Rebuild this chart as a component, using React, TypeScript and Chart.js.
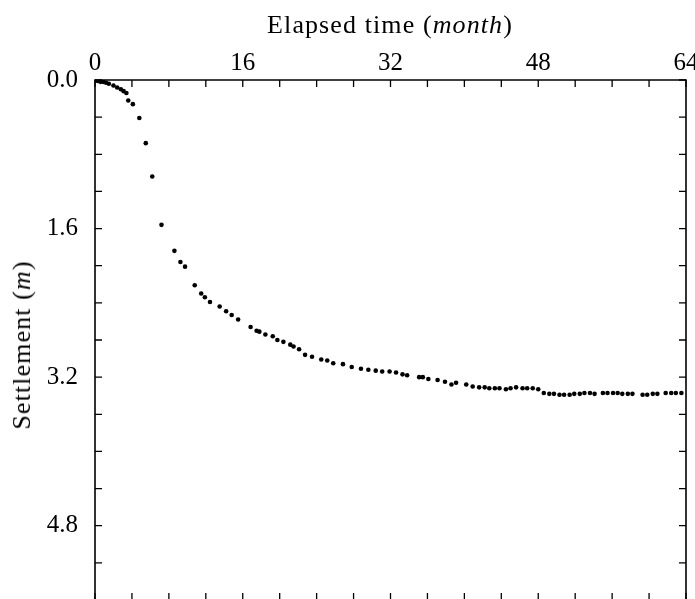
import React, { useEffect, useRef } from "react";
import { Chart, registerables } from "chart.js";

Chart.register(...registerables);

// Elapsed time (month)
const months: number[] = [
  0.0, 0.3, 0.6, 0.9, 1.2, 1.5, 2.0, 2.4, 2.8, 3.1, 3.4,
  3.6, 4.1, 4.8, 5.5, 6.2, 7.2, 8.6, 9.25, 9.75, 10.8,
  11.5, 11.9, 12.45, 13.5, 14.2, 14.8, 15.5, 16.85, 17.5, 17.8,
  18.45, 19.25, 19.75, 20.4, 21.15, 21.5, 22.1, 22.75, 23.5, 24.5,
  25.15, 25.8, 26.85, 27.8, 28.8, 29.6, 30.4, 31.1, 31.9, 32.6,
  33.3, 33.8, 35.1, 35.5, 36.1, 37.1, 37.9, 38.6, 39.1, 40.2,
  40.9, 41.6, 42.2, 42.7, 43.3, 43.8, 44.5, 45.0, 45.6, 46.3,
  46.8, 47.4, 48.0, 48.6, 49.2, 49.7, 50.3, 50.8, 51.4, 51.9,
  52.5, 53.0, 53.6, 54.1, 55.0, 55.5, 56.1, 56.6, 57.1, 57.7,
  58.2, 59.3, 59.8, 60.4, 60.9, 61.8, 62.4, 62.9, 63.5,
];

// Settlement (m)
const settlement: number[] = [
  0.0, 0.01, 0.02, 0.02, 0.03, 0.04, 0.06, 0.08, 0.10, 0.12, 0.14,
  0.22, 0.26, 0.41, 0.68, 1.04, 1.56, 1.84, 1.96, 2.01, 2.21,
  2.30, 2.34, 2.39, 2.44, 2.49, 2.53, 2.58, 2.66, 2.70, 2.71,
  2.74, 2.76, 2.80, 2.82, 2.85, 2.87, 2.90, 2.96, 2.98, 3.01,
  3.02, 3.05, 3.06, 3.09, 3.11, 3.12, 3.13, 3.14, 3.14, 3.15,
  3.17, 3.18, 3.20, 3.20, 3.22, 3.23, 3.25, 3.28, 3.26, 3.28,
  3.30, 3.31, 3.31, 3.32, 3.32, 3.32, 3.33, 3.32, 3.31, 3.32,
  3.32, 3.32, 3.33, 3.37, 3.38, 3.38, 3.39, 3.39, 3.39, 3.38,
  3.38, 3.37, 3.37, 3.38, 3.37, 3.37, 3.37, 3.37, 3.38, 3.38,
  3.38, 3.39, 3.39, 3.38, 3.38, 3.37, 3.37, 3.37, 3.37,
];

const xTickLabels: number[] = [0, 16, 32, 48, 64];
const yTickLabels: number[] = [0.0, 1.6, 3.2, 4.8];
const xMinorStep = 4;
const yMinorStep = 0.4;
const xRange: [number, number] = [0, 64];
const yRange: [number, number] = [0, 5.6];

const FONT = "'Liberation Serif', 'Times New Roman', serif";

const frameTicksPlugin = {
  id: "frameTicks",
  afterDraw(chart: any) {
    const { ctx, chartArea } = chart;
    const xs = chart.scales.x;
    const ys = chart.scales.y;
    const { left, right, top, bottom } = chartArea;
    const len = 7;
    ctx.save();
    ctx.strokeStyle = "#000";
    ctx.lineWidth = 1.6;
    ctx.beginPath();
    ctx.rect(left, top, right - left, bottom - top);
    ctx.stroke();
    ctx.lineWidth = 1.3;
    ctx.beginPath();
    for (let i = 0; xRange[0] + i * xMinorStep <= xRange[1] + 1e-9; i++) {
      const px = xs.getPixelForValue(xRange[0] + i * xMinorStep);
      ctx.moveTo(px, top);
      ctx.lineTo(px, top + len);
      ctx.moveTo(px, bottom);
      ctx.lineTo(px, bottom - len);
    }
    for (let i = 0; yRange[0] + i * yMinorStep <= yRange[1] + 1e-9; i++) {
      const py = ys.getPixelForValue(yRange[0] + i * yMinorStep);
      ctx.moveTo(left, py);
      ctx.lineTo(left + len, py);
      ctx.moveTo(right, py);
      ctx.lineTo(right - len, py);
    }
    ctx.stroke();
    ctx.restore();
  },
};

export default function App() {
  const canvasRef = useRef<HTMLCanvasElement | null>(null);

  useEffect(() => {
    const canvas = canvasRef.current;
    if (!canvas) return;
    const data = months.map((t, i) => ({ x: t, y: settlement[i] }));
    const chart = new Chart(canvas, {
      type: "scatter",
      data: {
        datasets: [
          {
            data,
            pointRadius: 2.3,
            pointBorderWidth: 0,
            pointBackgroundColor: "#000",
            pointBorderColor: "#000",
            showLine: false,
          },
        ],
      },
      options: {
        animation: false,
        responsive: false,
        devicePixelRatio: 1,
        layout: { padding: { left: 0, top: 0, right: 9, bottom: 4 } },
        plugins: {
          legend: { display: false },
          tooltip: { enabled: false },
          title: { display: false },
        },
        scales: {
          x: {
            type: "linear",
            position: "top",
            min: xRange[0],
            max: xRange[1],
            grid: { display: false, drawTicks: false },
            border: { display: false },
            ticks: {
              color: "#000",
              padding: 2,
              maxRotation: 0,
              autoSkip: false,
              font: { family: FONT, size: 25 },
              callback: (v: any) => String(v),
            },
            afterBuildTicks: (scale: any) => {
              scale.ticks = xTickLabels.map((v) => ({ value: v }));
            },
            afterFit: (scale: any) => {
              scale.height = 80;
              scale.paddingLeft = 0;
              scale.paddingRight = 0;
            },
          },
          y: {
            type: "linear",
            position: "left",
            reverse: true,
            min: yRange[0],
            max: yRange[1],
            grid: { display: false, drawTicks: false },
            border: { display: false },
            ticks: {
              color: "#000",
              padding: 17,
              autoSkip: false,
              font: { family: FONT, size: 25 },
              callback: (v: any) => Number(v).toFixed(1),
            },
            afterBuildTicks: (scale: any) => {
              scale.ticks = yTickLabels.map((v) => ({ value: v }));
            },
            afterFit: (scale: any) => {
              scale.width = 95;
              scale.paddingTop = 0;
              scale.paddingBottom = 0;
            },
          },
        },
      },
      plugins: [frameTicksPlugin],
    });
    return () => chart.destroy();
  }, []);

  const titleStyle: React.CSSProperties = {
    position: "absolute",
    fontFamily: FONT,
    fontSize: 26,
    letterSpacing: "1.1px",
    color: "#000",
    whiteSpace: "nowrap",
    lineHeight: 1,
  };

  return (
    <div
      style={{
        position: "fixed",
        left: 0,
        top: 0,
        width: 695,
        height: 599,
        overflow: "hidden",
        background: "#fff",
      }}
    >
      <canvas ref={canvasRef} width={695} height={604} style={{ display: "block" }} />
      <div style={{ ...titleStyle, left: 390, top: 25, transform: "translate(-50%, -50%)" }}>
        Elapsed time (<i>month</i>)
      </div>
      <div
        style={{
          ...titleStyle,
          left: 22,
          top: 345,
          transform: "translate(-50%, -50%) rotate(-90deg)",
        }}
      >
        Settlement (<i>m</i>)
      </div>
    </div>
  );
}
